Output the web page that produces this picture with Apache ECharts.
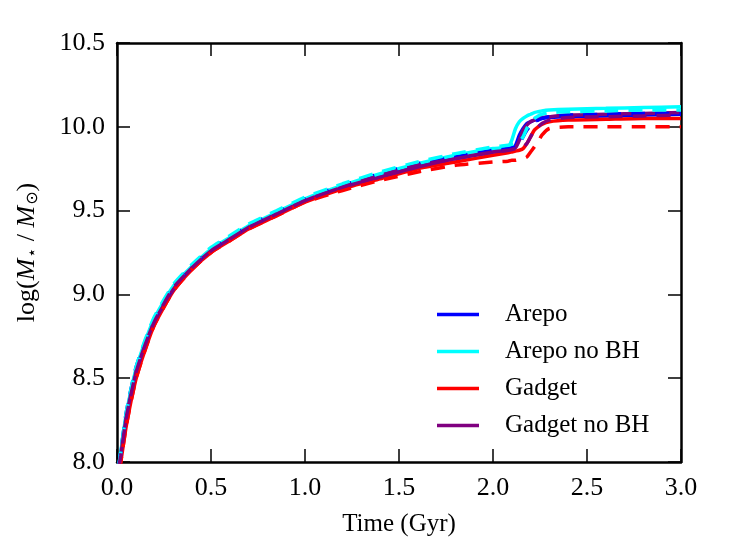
<!DOCTYPE html>
<html>
<head>
<meta charset="utf-8">
<script src="https://cdn.jsdelivr.net/npm/echarts@6/dist/echarts.min.js"></script>
<style>
  html, body { margin: 0; padding: 0; background: #fff; }
  #chart { width: 731px; height: 551px; }
</style>
</head>
<body>
<div id="chart"></div>
<script>
	// 时间 (Gyr)
	var times = [0.01, 0.02, 0.05, 0.1, 0.15, 0.2, 0.3, 0.4, 0.5, 0.6, 0.7, 0.85, 1.0, 1.2, 1.4, 1.6, 1.8, 2.0,
		2.08, 2.1, 2.12, 2.14, 2.16, 2.18, 2.2, 2.22, 2.24, 2.26, 2.3, 2.4, 2.6, 2.8, 3.0];

	// 实线
	var arepo = [7.98, 8.05, 8.28, 8.54, 8.71, 8.85, 9.04, 9.16, 9.26, 9.33, 9.40, 9.48, 9.56, 9.64, 9.71, 9.77, 9.81, 9.85,
		9.86, 9.87, 9.89, 9.95, 9.99, 10.02, 10.03, 10.04, 10.045, 10.05, 10.055, 10.06, 10.065, 10.07, 10.075];
	var arepoNoBH = [7.98, 8.06, 8.29, 8.55, 8.72, 8.86, 9.05, 9.17, 9.27, 9.34, 9.41, 9.49, 9.57, 9.65, 9.72, 9.78, 9.83, 9.87,
		9.88, 9.92, 9.99, 10.03, 10.05, 10.065, 10.075, 10.085, 10.09, 10.095, 10.10, 10.105, 10.11, 10.115, 10.12];
	var gadget = [7.95, 8.0, 8.22, 8.49, 8.67, 8.82, 9.02, 9.15, 9.25, 9.32, 9.39, 9.47, 9.55, 9.63, 9.69, 9.75, 9.79, 9.83,
		9.845, 9.85, 9.855, 9.86, 9.87, 9.9, 9.94, 9.98, 10.0, 10.015, 10.03, 10.04, 10.045, 10.05, 10.05];
	var gadgetNoBH = [7.97, 8.04, 8.27, 8.53, 8.70, 8.84, 9.03, 9.16, 9.26, 9.33, 9.40, 9.48, 9.56, 9.64, 9.70, 9.76, 9.81, 9.85,
		9.86, 9.865, 9.875, 9.92, 9.98, 10.01, 10.03, 10.04, 10.05, 10.055, 10.06, 10.07, 10.075, 10.08, 10.085];

	// 虚线
	var arepoDash = [7.98, 8.06, 8.3, 8.56, 8.72, 8.86, 9.05, 9.17, 9.27, 9.34, 9.41, 9.49, 9.57, 9.65, 9.72, 9.78, 9.82, 9.86,
		9.87, 9.875, 9.88, 9.9, 9.94, 9.98, 10.01, 10.03, 10.04, 10.05, 10.06, 10.07, 10.075, 10.08, 10.08];
	var arepoNoBHDash = [7.98, 8.06, 8.3, 8.56, 8.73, 8.87, 9.06, 9.18, 9.28, 9.35, 9.42, 9.50, 9.58, 9.66, 9.73, 9.79, 9.84, 9.88,
		9.89, 9.895, 9.9, 9.91, 9.94, 9.99, 10.03, 10.05, 10.065, 10.075, 10.085, 10.09, 10.095, 10.1, 10.1];
	var gadgetDash = [7.95, 8.0, 8.22, 8.49, 8.67, 8.82, 9.02, 9.15, 9.25, 9.32, 9.39, 9.47, 9.55, 9.62, 9.68, 9.73, 9.77, 9.79,
		9.795, 9.8, 9.8, 9.805, 9.81, 9.82, 9.85, 9.88, 9.91, 9.95, 9.99, 10.0, 10.0, 10.0, 10.0];
	var gadgetNoBHDash = [7.97, 8.04, 8.27, 8.53, 8.70, 8.84, 9.04, 9.16, 9.26, 9.33, 9.40, 9.48, 9.56, 9.64, 9.71, 9.77, 9.81, 9.85,
		9.86, 9.865, 9.87, 9.875, 9.88, 9.9, 9.94, 9.98, 10.0, 10.02, 10.04, 10.055, 10.06, 10.065, 10.07];

	var names = ['Arepo', 'Arepo no BH', 'Gadget', 'Gadget no BH'];
	var colors = ['#0000ff', '#00ffff', '#ff0000', '#800080'];

	var FONT = 'Liberation Serif';

	function pairs(vals){
		var out = [];
		for(var i=0;i<times.length;i++){
			out.push([times[i], vals[i]]);
		}
		return out;
	}
	function mkLine(name, vals, color, dashed){
		return {
			name: name,
			type: 'line',
			data: pairs(vals),
			showSymbol: false,
			symbol: 'none',
			smooth: 0.2,
			animation: false,
			clip: true,
			itemStyle: {color: color},
			lineStyle: {
				color: color,
				width: 3.5,
				type: dashed ? [14, 10] : 'solid'
			},
			z: dashed ? 3 : 2
		};
	}

	var axisCommon = {
		axisLine: {show: true, onZero: false, lineStyle: {color: '#000', width: 2.5}},
		axisTick: {show: true, inside: true, length: 13, lineStyle: {color: '#000', width: 1.5}},
		splitLine: {show: false}
	};

	var legendData = [];
	for(var k=0;k<names.length;k++){
		legendData.push({name: names[k], itemStyle: {color: colors[k]}});
	}

	var chart = echarts.init(document.getElementById('chart'));
	chart.setOption({
		backgroundColor: '#fff',
		animation: false,
		grid: {left: 117, right: 50, top: 43, bottom: 89},
		legend: {
			left: 432,
			top: 297,
			orient: 'vertical',
			itemWidth: 42,
			itemHeight: 3.5,
			itemGap: 12,
			icon: 'rect',
			textStyle: {fontFamily: FONT, fontSize: 25, color: '#000', padding: [0, 0, 0, 21]},
			data: legendData
		},
		xAxis: [
			Object.assign({
				type: 'value', min: 0, max: 3, interval: 0.5,
				name: 'Time (Gyr)', nameLocation: 'middle', nameGap: 50,
				nameTextStyle: {fontFamily: FONT, fontSize: 25, color: '#000'},
				axisLabel: {fontFamily: FONT, fontSize: 26, color: '#000', margin: 13,
					formatter: function(v){ return v.toFixed(1); }}
			}, axisCommon),
			Object.assign({
				type: 'value', min: 0, max: 3, interval: 0.5, position: 'top',
				axisLabel: {show: false}
			}, axisCommon)
		],
		yAxis: [
			Object.assign({
				type: 'value', min: 8, max: 10.5, interval: 0.5,
				name: '{n|log(}{i|M}{s|⋆}{n| / }{i|M}{s|⊙}{n|)}',
				nameLocation: 'middle', nameGap: 76, nameRotate: 90,
				nameTextStyle: {
					fontFamily: FONT, fontSize: 26, color: '#000',
					rich: {
						n: {fontFamily: FONT, fontSize: 26, color: '#000'},
						i: {fontFamily: FONT, fontSize: 26, fontStyle: 'italic', color: '#000'},
						s: {fontFamily: 'DejaVu Sans', fontSize: 16, color: '#000', padding: [12, 0, 0, 1]}
					}
				},
				axisLabel: {fontFamily: FONT, fontSize: 26, color: '#000', margin: 12,
					formatter: function(v){ return v.toFixed(1); }}
			}, axisCommon),
			Object.assign({
				type: 'value', min: 8, max: 10.5, interval: 0.5, position: 'right',
				axisLabel: {show: false}
			}, axisCommon)
		],
		series: [
			mkLine(names[0], arepo, colors[0], false),
			mkLine(names[0] + ' dashed', arepoDash, colors[0], true),
			mkLine(names[1], arepoNoBH, colors[1], false),
			mkLine(names[1] + ' dashed', arepoNoBHDash, colors[1], true),
			mkLine(names[2], gadget, colors[2], false),
			mkLine(names[2] + ' dashed', gadgetDash, colors[2], true),
			mkLine(names[3], gadgetNoBH, colors[3], false),
			mkLine(names[3] + ' dashed', gadgetNoBHDash, colors[3], true)
		]
	});
</script>
</body>
</html>
